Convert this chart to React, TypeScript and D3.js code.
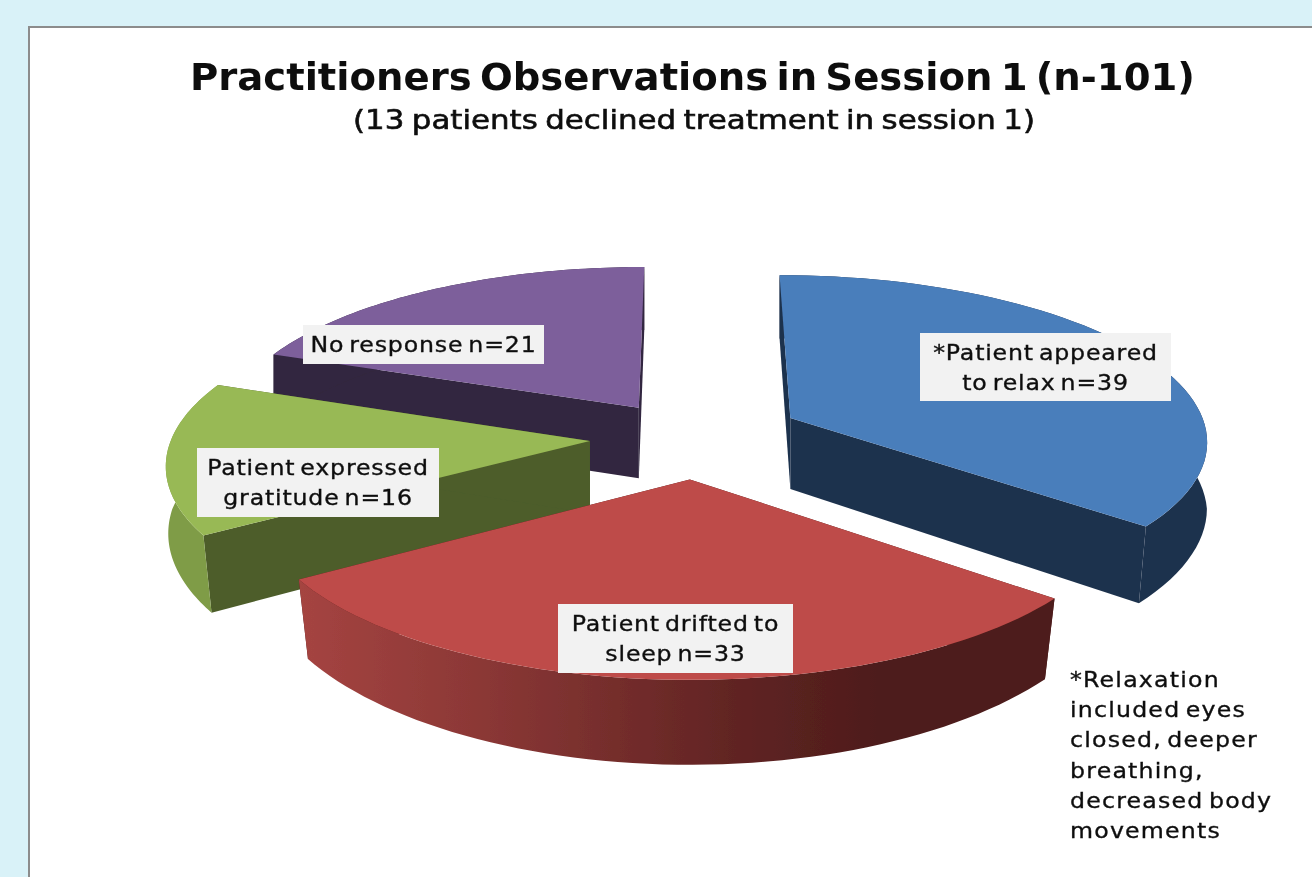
import React from 'react';
import * as d3 from 'd3';

const categories = ['*Patient appeared to relax', 'Patient drifted to sleep', 'Patient expressed gratitude', 'No response'];
const values = [39, 33, 16, 21];
const topColors = ['#4a7ebb', '#be4b48', '#98b954', '#7d5f9b'];
const cutColors = ['#1f334e', '#4d1c1b', '#4d5d2a', '#31263f'];
const wallColors = ['#1f334e', 'url(#redWall)', '#7f9c47', '#31263f'];
const explode = [0.27, 0.25, 0.24, 0.22];
const nudge = [0, 0.014, 0, 0];
const paintOrder = [3, 0, 2, 1];

const labelLines = [['*Patient appeared', 'to relax n=39'], ['Patient drifted to', 'sleep n=33'], ['Patient expressed', 'gratitude n=16'], ['No response n=21']];
const labelBoxes = [
  { x: 920, y: 333, w: 251, h: 68 },
  { x: 558, y: 604, w: 235, h: 69 },
  { x: 197, y: 448, w: 242, h: 69 },
  { x: 303, y: 325, w: 241, h: 39 },
];
const footnote = ['*Relaxation', 'included eyes', 'closed, deeper', 'breathing,', 'decreased body', 'movements'];

const cx = 690;
const cy = 437;
const rx = 418;
const ry = 164.7;
const persp = 0.122;
const depth = 72;
const floorShrink = 0.03;
const textStretch = 1.1;
const fontFamily = '"DejaVu Sans", sans-serif';

const slices = d3.pie<number>().sort(null).startAngle(0).endAngle(2 * Math.PI)(values);

// u, v are on the pie plane in radius units, v grows toward the viewer
function project(u: number, v: number, lower: boolean): [number, number] {
  const d = 1 - persp * v;
  const x = cx + (rx * u) / d;
  const y = cy + (ry * v) / d;
  if (!lower) return [x, y];
  // the floor of the pie pulls in a bit, more so at the front
  const s = 1 - floorShrink * Math.max(0, v);
  return [cx + (x - cx) * s, y + depth / d];
}

function rim(apex: number[], angle: number, lower: boolean) {
  return project(apex[0] + Math.sin(angle), apex[1] - Math.cos(angle), lower);
}

const line = d3.line();

function arcPoints(apex: number[], a0: number, a1: number, lower: boolean) {
  return d3.range(0, 61).map((i) => rim(apex, a0 + ((a1 - a0) * i) / 60, lower));
}

export default function App() {
  const apexes = slices.map((s, i) => {
    const mid = (s.startAngle + s.endAngle) / 2;
    return [explode[i] * Math.sin(mid) + nudge[i], -explode[i] * Math.cos(mid)];
  });

  return (
    <svg width={1312} height={877} style={{ position: 'absolute', left: 0, top: 0 }}>
      <defs>
        <linearGradient id="redWall" gradientUnits="userSpaceOnUse" x1={300} x2={1050} y1={0} y2={0}>
          <stop offset="0" stopColor="#a54441" />
          <stop offset="0.25" stopColor="#8a3735" />
          <stop offset="0.6" stopColor="#5e2322" />
          <stop offset="0.78" stopColor="#4d1c1b" />
          <stop offset="1" stopColor="#4d1c1b" />
        </linearGradient>
        <filter id="soft" x="-2%" y="-2%" width="104%" height="104%">
          <feGaussianBlur stdDeviation="0.7" />
        </filter>
      </defs>
      <rect width={1312} height={877} fill="#d9f2f8" />
      <g filter="url(#soft)">
        <rect x={29} y={27} width={1300} height={870} fill="#fff" stroke="#8c8c8c" strokeWidth={2} />

        <text x={190} y={90} fontFamily={fontFamily} fontWeight="bold" fontSize={37} wordSpacing={-5} textLength={1005} lengthAdjust="spacingAndGlyphs" fill="#111">
          Practitioners Observations in Session 1 (n-101)
        </text>
        <text x={353} y={129} fontFamily={fontFamily} fontSize={26} wordSpacing={-2} stroke="#111" strokeWidth={0.6} textLength={682} lengthAdjust="spacingAndGlyphs" fill="#111">
          (13 patients declined treatment in session 1)
        </text>

        {paintOrder.map((i) => {
          const s = slices[i];
          const apex = apexes[i];
          const topArc = arcPoints(apex, s.startAngle, s.endAngle, false);
          const lowArc = arcPoints(apex, s.startAngle, s.endAngle, true);
          const wall = [...topArc, ...lowArc.slice().reverse()];
          const cut = (a: number) => [project(apex[0], apex[1], false), rim(apex, a, false), rim(apex, a, true), project(apex[0], apex[1], true)];
          return (
            <g key={categories[i]}>
              <path d={line(cut(s.startAngle))! + 'Z'} fill={cutColors[i]} />
              <path d={line(cut(s.endAngle))! + 'Z'} fill={cutColors[i]} />
              <path d={line(wall)! + 'Z'} fill={wallColors[i]} />
              <path d={line([project(apex[0], apex[1], false), ...topArc])! + 'Z'} fill={topColors[i]} />
            </g>
          );
        })}

        {labelBoxes.map((b, i) => (
          <g key={i}>
            <rect x={b.x} y={b.y} width={b.w} height={b.h} fill="#f2f2f2" />
            {labelLines[i].map((t, j) => (
              <text
                key={t}
                transform={`translate(${b.x + b.w / 2},${b.y + 27 + j * 30}) scale(${textStretch},1)`}
                textAnchor="middle"
                fontFamily={fontFamily}
                fontSize={21.5}
                letterSpacing={0.75}
                wordSpacing={-3}
                stroke="#111"
                strokeWidth={0.35}
                fill="#111"
              >
                {t}
              </text>
            ))}
          </g>
        ))}

        {footnote.map((t, j) => (
          <text
            key={t}
            transform={`translate(1070,${687 + j * 30.2}) scale(${textStretch},1)`}
            fontFamily={fontFamily}
            fontSize={21.5}
            letterSpacing={1.1}
            wordSpacing={-3}
            stroke="#111"
            strokeWidth={0.35}
            fill="#111"
          >
            {t}
          </text>
        ))}
      </g>
    </svg>
  );
}
